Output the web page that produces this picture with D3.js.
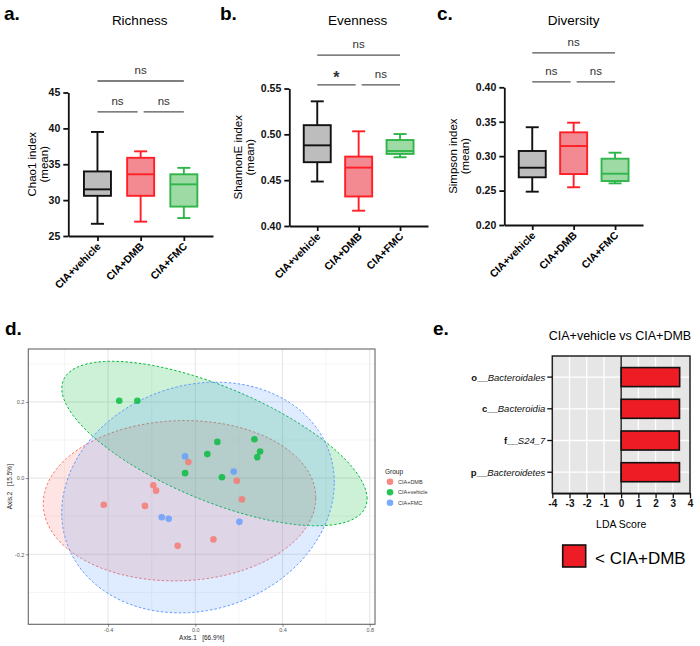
<!DOCTYPE html>
<html>
<head>
<meta charset="utf-8">
<script src="https://cdn.jsdelivr.net/npm/d3@7"></script>
<style>
  body { margin: 0; background: #fff; }
  svg { display: block; font-family: "Liberation Sans", Arial, sans-serif; }
</style>
</head>
<body>
<svg id="fig" width="700" height="646"></svg>
<script>
// ---- data: alpha diversity boxes, [min, q1, median, q3, max] ----
const groups = ["CIA+vehicle", "CIA+DMB", "CIA+FMC"];
const chao1Stats = [[26.7, 30.6, 31.5, 34.0, 39.5], [27.0, 30.6, 33.6, 35.9, 36.8], [27.5, 29.1, 32.2, 33.6, 34.5]];
const chao1Ticks = [25, 30, 35, 40, 45];
const shannonStats = [[0.4485, 0.4696, 0.488, 0.510, 0.536], [0.4167, 0.4322, 0.4637, 0.4757, 0.5033], [0.475, 0.4786, 0.4818, 0.4938, 0.5003]];
const shannonTicks = [0.40, 0.45, 0.50, 0.55];
const simpsonStats = [[0.2484, 0.2693, 0.2832, 0.3075, 0.342], [0.2548, 0.274, 0.3147, 0.3346, 0.3486], [0.2605, 0.2639, 0.2745, 0.2963, 0.305]];
const simpsonTicks = [0.20, 0.25, 0.30, 0.35, 0.40];
// comparisons: vehicle-DMB, DMB-FMC, vehicle-FMC
const comparisons = [[0, 1], [1, 2], [0, 2]];
const chao1Sig = ["ns", "ns", "ns"];
const chao1SigLevel = [42.3, 42.3, 46.6];
const shannonSig = ["*", "ns", "ns"];
const shannonSigLevel = [0.554, 0.554, 0.5865];
const simpsonSig = ["ns", "ns", "ns"];
const simpsonSigLevel = [0.408, 0.408, 0.45];

// ---- data: PCoA ----
const pcoaGroups = ["CIA+DMB", "CIA+vehicle", "CIA+FMC"];
const dmbPoints = [[-0.032, 0.042], [0.190, -0.007], [0.214, -0.056], [-0.193, -0.019], [-0.180, -0.033],
                   [-0.420, -0.070], [-0.231, -0.073], [-0.081, -0.178], [0.083, -0.161]];
const vehiclePoints = [[-0.349, 0.203], [-0.266, 0.203], [0.101, 0.095], [0.055, 0.063], [-0.047, 0.013],
                       [0.122, 0.002], [0.271, 0.102], [0.297, 0.070], [0.284, 0.055]];
const fmcPoints = [[-0.047, 0.057], [0.176, 0.017], [-0.154, -0.103], [-0.122, -0.107], [0.202, -0.115]];
// ellipse: [centre x, centre y, half width, half height, y offset at rightmost point]
const dmbEllipse = [-0.0725, -0.0595, 0.625, 0.2105, 0.008];
const vehicleEllipse = [0.0877, 0.0907, 0.700, 0.216, -0.145];
const fmcEllipse = [0.0124, -0.0511, 0.625, 0.303, 0.04];
const pcoaXTicks = [-0.4, 0.0, 0.4, 0.8];
const pcoaYTicks = [-0.2, 0.0, 0.2];

// ---- data: LEfSe ----
const ldaRanks = ["o__", "c__", "f__", "p__"];
const ldaTaxa = ["Bacteroidales", "Bacteroidia", "S24_7", "Bacteroidetes"];
const ldaScores = [3.40, 3.39, 3.38, 3.39];
const ldaTicks = [-4, -3, -2, -1, 0, 1, 2, 3, 4];

const boxStroke = ["#111111", "#ff1f26", "#2fb54a"];
const boxFill = ["#bdbdbd", "#f38a92", "#9edba4"];
const pcoaColors = ["#F8766D", "#00BA38", "#619CFF"];

// plain hyphen instead of unicode minus
const hyph = f => (v => f(v).replace("\u2212", "-"));

const svg = d3.select("#fig");

// panel letters
[["a.", 4, 20], ["b.", 220, 20], ["c.", 437, 20], ["d.", 5, 335], ["e.", 433, 335]].forEach(d => {
  svg.append("text").attr("x", d[1]).attr("y", d[2])
    .attr("font-size", 19).attr("font-weight", "bold").text(d[0]);
});

// box plot panel
function boxPanel(cfg) {
  const x = d3.scalePoint().domain(groups).range(cfg.xRange).padding(0.675);
  const y = d3.scaleLinear().domain(d3.extent(cfg.ticks)).range(cfg.yRange);
  const g = svg.append("g");
  const bw = 27;

  g.append("text").attr("x", (cfg.xRange[0] + cfg.xRange[1]) / 2 + cfg.titleDx).attr("y", 25)
    .attr("text-anchor", "middle").attr("font-size", 13.5).text(cfg.title);

  const yc = (cfg.yRange[0] + cfg.yRange[1]) / 2;
  const lab = g.append("text").attr("transform", `translate(${cfg.xRange[0] - cfg.labelOff},${yc}) rotate(-90)`)
    .attr("text-anchor", "middle").attr("font-size", 11.5);
  lab.append("tspan").attr("x", 0).attr("dy", 0).text(cfg.ylabel);
  lab.append("tspan").attr("x", 0).attr("dy", 12).text("(mean)");

  // y axis
  g.append("g").attr("transform", `translate(${cfg.xRange[0]},0)`)
    .call(d3.axisLeft(y).tickValues(cfg.ticks).tickSizeInner(5).tickSizeOuter(0).tickPadding(3).tickFormat(cfg.fmt))
    .call(a => {
      a.select(".domain").attr("stroke", "#111").attr("stroke-width", 1.8);
      a.selectAll("line").attr("stroke", "#111").attr("stroke-width", 1.8);
      a.selectAll("text").attr("font-size", 10.5).attr("font-weight", "bold")
        .attr("font-family", "Liberation Sans, Arial, sans-serif").attr("fill", "#111");
    });

  // x axis
  g.append("g").attr("transform", `translate(0,${cfg.yRange[0]})`)
    .call(d3.axisBottom(x).tickSizeInner(5).tickSizeOuter(0).tickFormat(""))
    .call(a => {
      a.select(".domain").attr("stroke", "#111").attr("stroke-width", 1.8);
      a.selectAll("line").attr("stroke", "#111").attr("stroke-width", 1.8);
    });
  groups.forEach(gr => {
    g.append("text").attr("transform", `translate(${x(gr) + 4},${cfg.yRange[0] + 11}) rotate(-45)`)
      .attr("text-anchor", "end").attr("font-size", 10.5).attr("font-weight", "bold").text(gr);
  });

  // boxes
  cfg.stats.forEach((s, i) => {
    const cx = x(groups[i]);
    const bg = g.append("g").attr("stroke", boxStroke[i]).attr("stroke-width", 1.9).attr("fill", "none");
    bg.append("line").attr("x1", cx).attr("x2", cx).attr("y1", y(s[0])).attr("y2", y(s[1]));
    bg.append("line").attr("x1", cx).attr("x2", cx).attr("y1", y(s[3])).attr("y2", y(s[4]));
    bg.append("line").attr("x1", cx - 6.5).attr("x2", cx + 6.5).attr("y1", y(s[0])).attr("y2", y(s[0]));
    bg.append("line").attr("x1", cx - 6.5).attr("x2", cx + 6.5).attr("y1", y(s[4])).attr("y2", y(s[4]));
    bg.append("rect").attr("x", cx - bw / 2).attr("width", bw)
      .attr("y", y(s[3])).attr("height", y(s[1]) - y(s[3])).attr("fill", boxFill[i]);
    bg.append("line").attr("x1", cx - bw / 2).attr("x2", cx + bw / 2).attr("y1", y(s[2])).attr("y2", y(s[2]));
  });

  // significance bars
  comparisons.forEach((c, k) => {
    const ly = y(cfg.sigLevel[k]);
    let x1 = x(groups[c[0]]), x2 = x(groups[c[1]]);
    if (k === 0) x2 -= 3;
    if (k === 1) x1 += 3;
    g.append("line").attr("x1", x1).attr("x2", x2).attr("y1", ly).attr("y2", ly)
      .attr("stroke", "#555").attr("stroke-width", 1.3);
    const star = cfg.sig[k] === "*";
    g.append("text").attr("x", (x1 + x2) / 2).attr("y", star ? ly - 2 : ly - 7)
      .attr("text-anchor", "middle").attr("fill", "#333")
      .attr("font-size", star ? 16 : 11.5).attr("font-weight", star ? "bold" : "normal")
      .text(cfg.sig[k]);
  });
}

boxPanel({ xRange: [68.3, 213], yRange: [236, 92.5], ticks: chao1Ticks, stats: chao1Stats,
  sig: chao1Sig, sigLevel: chao1SigLevel, title: "Richness", titleDx: -1, ylabel: "Chao1 index",
  labelOff: 32, fmt: d3.format("d") });
boxPanel({ xRange: [289.3, 428], yRange: [226, 88.5], ticks: shannonTicks, stats: shannonStats,
  sig: shannonSig, sigLevel: shannonSigLevel, title: "Evenness", titleDx: -1, ylabel: "ShannonE index",
  labelOff: 47, fmt: d3.format(".2f") });
boxPanel({ xRange: [504.3, 643], yRange: [225, 87.3], ticks: simpsonTicks, stats: simpsonStats,
  sig: simpsonSig, sigLevel: simpsonSigLevel, title: "Diversity", titleDx: 0, ylabel: "Simpson index",
  labelOff: 47, fmt: d3.format(".2f") });

// ---- panel d: PCoA ----
(function () {
  const x = d3.scaleLinear().domain([-0.766, 0.824]).range([28.3, 375]);
  const y = d3.scaleLinear().domain([-0.384, 0.339]).range([624.3, 349]);
  const g = svg.append("g");
  const [x0, x1] = x.range(), [y0, y1] = y.range();
  g.append("rect").attr("x", x0).attr("y", y1).attr("width", x1 - x0).attr("height", y0 - y1).attr("fill", "#fff");

  // minor + major grid
  const xMinor = [-0.6, -0.2, 0.2, 0.6];
  const yMinor = [-0.3, -0.1, 0.1, 0.3];
  xMinor.forEach(v => g.append("line").attr("x1", x(v)).attr("x2", x(v)).attr("y1", y0).attr("y2", y1)
    .attr("stroke", "#efefef").attr("stroke-width", 0.6));
  yMinor.forEach(v => g.append("line").attr("y1", y(v)).attr("y2", y(v)).attr("x1", x0).attr("x2", x1)
    .attr("stroke", "#efefef").attr("stroke-width", 0.6));
  pcoaXTicks.forEach(v => g.append("line").attr("x1", x(v)).attr("x2", x(v)).attr("y1", y0).attr("y2", y1)
    .attr("stroke", "#e0e0e0").attr("stroke-width", 0.9));
  pcoaYTicks.forEach(v => g.append("line").attr("y1", y(v)).attr("y2", y(v)).attr("x1", x0).attr("x2", x1)
    .attr("stroke", "#e0e0e0").attr("stroke-width", 0.9));

  // ellipses
  const ellipses = [dmbEllipse, vehicleEllipse, fmcEllipse];
  const line = d3.line().x(d => x(d[0])).y(d => y(d[1])).curve(d3.curveLinearClosed);
  ellipses.forEach((e, i) => {
    const s = Math.sqrt(e[3] * e[3] - e[4] * e[4]);
    const pts = d3.range(0, 2 * Math.PI, Math.PI / 90).map(t =>
      [e[0] + e[2] * Math.cos(t), e[1] + e[4] * Math.cos(t) + s * Math.sin(t)]);
    g.append("path").attr("d", line(pts)).attr("fill", pcoaColors[i]).attr("fill-opacity", 0.2)
      .attr("stroke", pcoaColors[i]).attr("stroke-width", 1).attr("stroke-dasharray", "2.5,2");
  });

  // points
  [dmbPoints, vehiclePoints, fmcPoints].forEach((pts, i) => {
    g.selectAll(null).data(pts).join("circle")
      .attr("cx", d => x(d[0])).attr("cy", d => y(d[1])).attr("r", 3.3)
      .attr("fill", pcoaColors[i]).attr("fill-opacity", 0.8);
  });

  g.append("rect").attr("x", x0).attr("y", y1).attr("width", x1 - x0).attr("height", y0 - y1)
    .attr("fill", "none").attr("stroke", "#666").attr("stroke-width", 1.1);

  g.append("g").attr("transform", `translate(0,${y0})`)
    .call(d3.axisBottom(x).tickValues(pcoaXTicks).tickSize(2.5).tickPadding(1.5).tickFormat(hyph(d3.format(".1f"))))
    .call(a => {
      a.select(".domain").remove();
      a.selectAll("line").attr("stroke", "#444").attr("stroke-width", 0.6);
      a.selectAll("text").attr("font-size", 5.5).attr("fill", "#555");
    });
  g.append("g").attr("transform", `translate(${x0},0)`)
    .call(d3.axisLeft(y).tickValues(pcoaYTicks).tickSize(2.5).tickPadding(1.5).tickFormat(hyph(d3.format(".1f"))))
    .call(a => {
      a.select(".domain").remove();
      a.selectAll("line").attr("stroke", "#444").attr("stroke-width", 0.6);
      a.selectAll("text").attr("font-size", 5.5).attr("fill", "#555");
    });

  g.append("text").attr("x", (x0 + x1) / 2).attr("y", 640).attr("text-anchor", "middle")
    .attr("font-size", 6.5).attr("fill", "#222").style("white-space", "pre").text("Axis.1   [66.9%]");
  g.append("text").attr("transform", `translate(12,${(y0 + y1) / 2}) rotate(-90)`).attr("text-anchor", "middle")
    .attr("font-size", 6.5).attr("fill", "#222").style("white-space", "pre").text("Axis.2   [15.5%]");

  // legend
  g.append("text").attr("x", 385).attr("y", 473.5).attr("font-size", 6.5).attr("fill", "#222").text("Group");
  pcoaGroups.forEach((name, i) => {
    const ly = 481.7 + i * 10.5;
    g.append("circle").attr("cx", 390).attr("cy", ly).attr("r", 3.3).attr("fill", pcoaColors[i]).attr("fill-opacity", 0.85);
    g.append("text").attr("x", 398).attr("y", ly + 2).attr("font-size", 5.5).attr("fill", "#333").text(name);
  });
})();

// ---- panel e: LDA ----
(function () {
  const x = d3.scaleLinear().domain([-4, 4]).range([552.3, 690]);
  const y = d3.scaleBand().domain(ldaTaxa).range([356, 493.3]).paddingInner(0.4).paddingOuter(0.365);
  const g = svg.append("g");
  const [x0, x1] = x.range(), [y0, y1] = y.range();

  g.append("text").attr("x", 620).attr("y", 340).attr("text-anchor", "middle").attr("font-size", 12.5)
    .text("CIA+vehicle vs CIA+DMB");

  g.append("rect").attr("x", x0).attr("y", y0).attr("width", x1 - x0).attr("height", y1 - y0).attr("fill", "#e6e6e6");
  ldaTicks.forEach(v => g.append("line").attr("x1", x(v)).attr("x2", x(v)).attr("y1", y0).attr("y2", y1)
    .attr("stroke", "#fff").attr("stroke-width", 1.3));
  ldaTaxa.forEach(t => g.append("line").attr("x1", x0).attr("x2", x1)
    .attr("y1", y(t) + y.bandwidth() / 2).attr("y2", y(t) + y.bandwidth() / 2)
    .attr("stroke", "#fff").attr("stroke-width", 1.3));

  g.selectAll(null).data(ldaScores).join("rect")
    .attr("x", x(0)).attr("y", (d, i) => y(ldaTaxa[i]))
    .attr("width", d => x(d) - x(0)).attr("height", y.bandwidth())
    .attr("fill", "#ee1d25").attr("stroke", "#111").attr("stroke-width", 1.6);

  g.append("line").attr("x1", x(0)).attr("x2", x(0)).attr("y1", y0).attr("y2", y1)
    .attr("stroke", "#111").attr("stroke-width", 1.3);
  g.append("rect").attr("x", x0).attr("y", y0).attr("width", x1 - x0).attr("height", y1 - y0)
    .attr("fill", "none").attr("stroke", "#222").attr("stroke-width", 1.5);

  g.append("g").attr("transform", `translate(0,${y1})`)
    .call(d3.axisBottom(x).tickValues(ldaTicks).tickSizeInner(5).tickSizeOuter(0).tickPadding(2).tickFormat(d => String(d)))
    .call(a => {
      a.select(".domain").attr("stroke", "#111").attr("stroke-width", 1.5);
      a.selectAll("line").attr("stroke", "#111").attr("stroke-width", 1.3);
      a.selectAll("text").attr("font-size", 10).attr("font-weight", "bold").attr("fill", "#111");
    });
  g.append("g").attr("transform", `translate(${x0},0)`)
    .call(d3.axisLeft(y).tickSizeInner(5).tickSizeOuter(0).tickFormat(""))
    .call(a => {
      a.select(".domain").remove();
      a.selectAll("line").attr("stroke", "#111").attr("stroke-width", 1.3);
    });
  ldaTaxa.forEach((t, i) => {
    const tx = g.append("text").attr("x", x0 - 7).attr("y", y(t) + y.bandwidth() / 2 + 3.5)
      .attr("text-anchor", "end").attr("font-size", 9.5).attr("fill", "#111");
    tx.append("tspan").attr("font-weight", "bold").text(ldaRanks[i]);
    tx.append("tspan").attr("font-style", "italic").text(ldaTaxa[i]);
  });
  g.append("text").attr("x", (x0 + x1) / 2).attr("y", 528).attr("text-anchor", "middle")
    .attr("font-size", 10.5).text("LDA Score");

  g.append("rect").attr("x", 562.7).attr("y", 545).attr("width", 23).attr("height", 22)
    .attr("fill", "#ee1d25").attr("stroke", "#111").attr("stroke-width", 1.6);
  g.append("text").attr("x", 595).attr("y", 563.5).attr("font-size", 17).text("< CIA+DMB");
})();
</script>
</body>
</html>
